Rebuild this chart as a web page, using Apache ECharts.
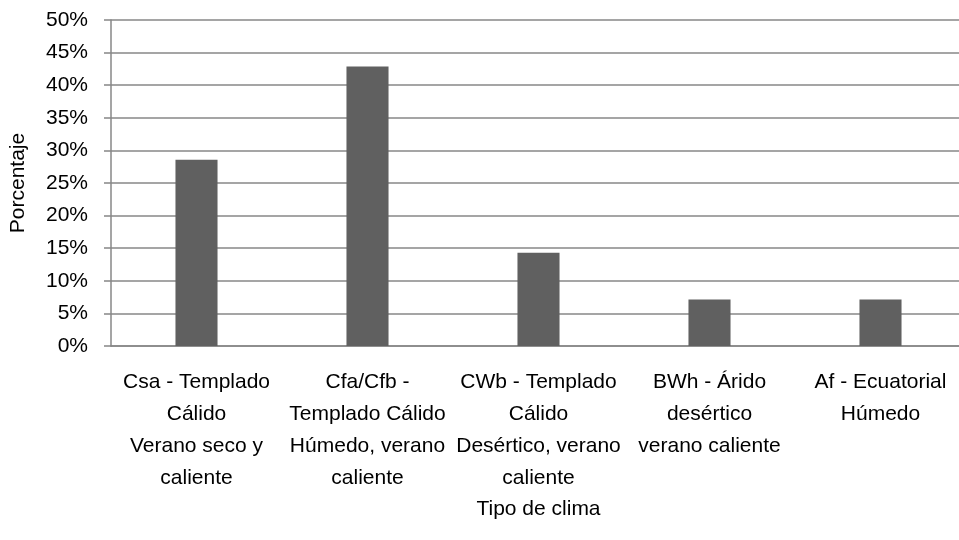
<!DOCTYPE html>
<html>
<head>
<meta charset="utf-8">
<script src="https://cdn.jsdelivr.net/npm/echarts@6/dist/echarts.min.js"></script>
<style>html,body{margin:0;padding:0;background:#fff;overflow:hidden;width:959px;height:540px;}#c{width:966px;height:540px;}</style>
</head>
<body>
<div id="c"></div>
<script>
const categories = [
  "Csa - Templado\nCálido\nVerano seco y\ncaliente",
  "Cfa/Cfb -\nTemplado Cálido\nHúmedo, verano\ncaliente",
  "CWb - Templado\nCálido\nDesértico, verano\ncaliente",
  "BWh - Árido\ndesértico\nverano caliente",
  "Af - Ecuatorial\nHúmedo"
];
const values = [28.57, 42.86, 14.29, 7.14, 7.14];
const yTicks = { min: 0, max: 50, interval: 5 };
const xName = "Tipo de clima";
const yName = "Porcentaje";

const chart = echarts.init(document.getElementById('c'), null, {renderer: 'canvas'});
const font = "'Liberation Sans', Arial, sans-serif";
chart.setOption({
  animation: false,
  grid: { left: 111, right: 0, top: 20, bottom: 194, containLabel: false },
  xAxis: {
    type: 'category',
    data: categories,
    name: xName,
    nameLocation: 'middle',
    nameGap: 152,
    nameTextStyle: { fontFamily: font, fontSize: 21, color: '#000' },
    axisLine: { show: true, lineStyle: { color: '#878787', width: 1.5 } },
    axisTick: { show: false },
    axisLabel: { interval: 0, fontFamily: font, fontSize: 21, color: '#000', lineHeight: 32, margin: 20 }
  },
  yAxis: {
    type: 'value',
    min: yTicks.min, max: yTicks.max, interval: yTicks.interval,
    name: yName,
    nameLocation: 'middle',
    nameGap: 82,
    nameTextStyle: { fontFamily: font, fontSize: 21, color: '#000' },
    axisLine: { show: true, lineStyle: { color: '#878787', width: 1.5 } },
    axisTick: { show: true, length: 7, lineStyle: { color: '#878787', width: 1.5 } },
    splitLine: { show: true, lineStyle: { color: '#878787', width: 1.5 } },
    axisLabel: { fontFamily: font, fontSize: 21, color: '#000', margin: 23, formatter: '{value}%' }
  },
  series: [{
    type: 'bar',
    data: values,
    barWidth: '24.6%',
    itemStyle: { color: '#606060' }
  }]
});
</script>
</body>
</html>
